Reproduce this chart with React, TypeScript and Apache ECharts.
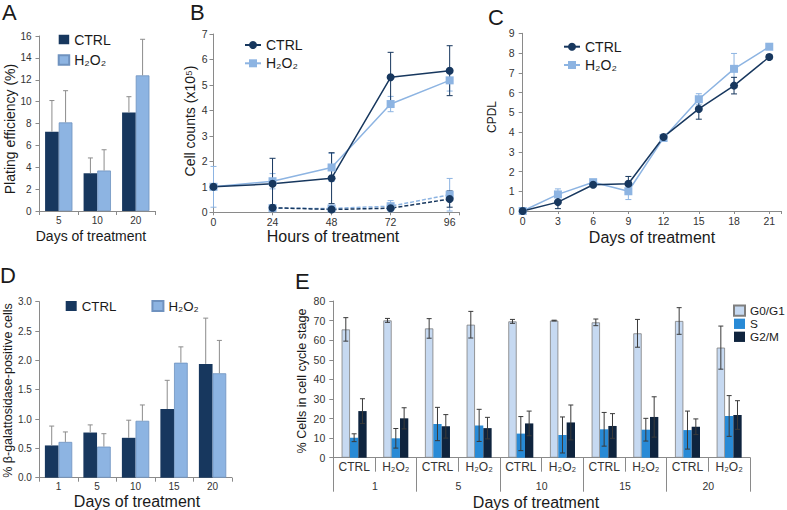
import React, { useEffect, useRef } from 'react';
import * as echarts from 'echarts';

const FONT = '"Liberation Sans", Arial, Helvetica, sans-serif';
const DARK = '#17375E';
const LIGHT = '#8DB4E2';
const G0C = '#C6D9F1';
const SC = '#288AD6';
const G2C = '#0F243E';
const AXIS = '#8A8A8A';
const LABEL = '#333333';
const TITLE = '#1A1A1A';
const ERRGRAY = '#8C8C8C';
const ERRDARK = '#3A3A3A';

// ---- Panel A: plating efficiency ----
const daysA = ['5', '10', '20'];
const aCtrl = [7.25, 3.45, 9.0];
const aCtrlErr = [2.85, 1.4, 1.45];
const aH2o2 = [8.1, 3.7, 12.4];
const aH2o2Err = [2.9, 1.9, 3.3];

// ---- Panel B: cell counts ----
const hoursB = [0, 24, 48, 72, 96];
const bCtrl = [1.0, 1.12, 1.34, 5.3, 5.56];
const bCtrlErr = [0, 1.0, 1.0, 0.98, 0.98];
const bH2o2 = [1.0, 1.22, 1.76, 4.25, 5.18];
const bH2o2Err = [0.8, 0.3, 0.55, 0.3, 0.42];
const hoursBLow = [24, 48, 72, 96];
const bCtrlLow = [0.18, 0.11, 0.16, 0.52];
const bCtrlLowErr = [0.12, 0.05, 0.08, 0.32];
const bH2o2Low = [0.16, 0.15, 0.24, 0.69];
const bH2o2LowErr = [0.1, 0.1, 0.22, 0.64];

// ---- Panel C: CPDL ----
const daysC = [0, 3, 6, 9, 12, 15, 18, 21];
const cCtrl = [0, 0.45, 1.33, 1.38, 3.75, 5.17, 6.35, 7.8];
const cCtrlErr = [0, 0.33, 0.08, 0.37, 0.1, 0.52, 0.42, 0.12];
const cH2o2 = [0, 0.84, 1.46, 1.0, 3.7, 5.66, 7.2, 8.32];
const cH2o2Err = [0, 0.28, 0.1, 0.42, 0.15, 0.28, 0.78, 0.1];

// ---- Panel D: beta-galactosidase ----
const daysD = ['1', '5', '10', '15', '20'];
const dCtrl = [0.55, 0.77, 0.68, 1.17, 1.94];
const dCtrlErr = [0.33, 0.13, 0.3, 0.49, 0.78];
const dH2o2 = [0.61, 0.53, 0.97, 1.96, 1.78];
const dH2o2Err = [0.17, 0.22, 0.27, 0.27, 0.56];

// ---- Panel E: cell cycle ----
const eGroups = ['CTRL', 'H₂O₂', 'CTRL', 'H₂O₂', 'CTRL', 'H₂O₂', 'CTRL', 'H₂O₂', 'CTRL', 'H₂O₂'];
const eDays = ['1', '5', '10', '15', '20'];
const eG0 = [65.5, 70.1, 66.0, 67.9, 69.6, 70.0, 69.1, 63.5, 69.8, 56.2];
const eG0Err = [6.0, 1.0, 5.0, 6.8, 1.0, 0.2, 1.7, 7.1, 6.8, 11.0];
const eS = [10.2, 9.9, 17.2, 16.5, 12.3, 11.6, 14.5, 14.3, 14.1, 21.3];
const eSErr = [2.0, 5.0, 8.5, 8.2, 8.7, 9.2, 8.6, 5.8, 9.7, 10.4];
const eG2 = [23.8, 20.1, 16.0, 15.1, 17.5, 18.0, 16.2, 20.8, 15.8, 21.8];
const eG2Err = [6.3, 5.4, 6.0, 5.5, 6.3, 8.9, 6.3, 10.3, 4.0, 7.3];

function catErr(xi: number, yi: number, vals: number[], errs: number[], slot: number, n: number,
  gap: number, color: string, both: boolean, cap: number, z: number) {
  return {
    type: 'custom', xAxisIndex: xi, yAxisIndex: yi, z, silent: true,
    data: vals.map((v, i) => [i, v, errs[i]]),
    encode: { x: 0, y: 1 },
    renderItem: (params: any, api: any) => {
      const i = api.value(0);
      const v = api.value(1);
      const e = api.value(2);
      if (!(e > 0)) return null;
      const band = api.size([1, 0])[0];
      const bw = (band * (1 - gap)) / n;
      const off = (slot - (n - 1) / 2) * bw;
      const pTop = api.coord([i, v + e]);
      const pBot = api.coord([i, both ? v - e : v]);
      const x = pTop[0] + off;
      const st = { stroke: color, lineWidth: 1 };
      const children: any[] = [
        { type: 'line', shape: { x1: x, y1: pBot[1], x2: x, y2: pTop[1] }, style: st },
        { type: 'line', shape: { x1: x - cap, y1: pTop[1], x2: x + cap, y2: pTop[1] }, style: st },
      ];
      if (both) children.push({ type: 'line', shape: { x1: x - cap, y1: pBot[1], x2: x + cap, y2: pBot[1] }, style: st });
      return { type: 'group', children };
    },
  };
}

function valErr(xi: number, yi: number, xs: number[], vals: number[], errs: number[], color: string, cap: number, z: number) {
  return {
    type: 'custom', xAxisIndex: xi, yAxisIndex: yi, z, silent: true,
    data: vals.map((v, i) => [xs[i], v, errs[i]]),
    encode: { x: 0, y: 1 },
    renderItem: (params: any, api: any) => {
      const xv = api.value(0);
      const v = api.value(1);
      const e = api.value(2);
      if (!(e > 0)) return null;
      const pTop = api.coord([xv, v + e]);
      const pBot = api.coord([xv, Math.max(0, v - e)]);
      const x = pTop[0];
      const st = { stroke: color, lineWidth: 1 };
      return {
        type: 'group',
        children: [
          { type: 'line', shape: { x1: x, y1: pBot[1], x2: x, y2: pTop[1] }, style: st },
          { type: 'line', shape: { x1: x - cap, y1: pTop[1], x2: x + cap, y2: pTop[1] }, style: st },
          { type: 'line', shape: { x1: x - cap, y1: pBot[1], x2: x + cap, y2: pBot[1] }, style: st },
        ],
      };
    },
  };
}

const axisLine = { show: true, lineStyle: { color: AXIS, width: 1 } };
const tick = (len: number) => ({ show: true, length: len, lineStyle: { color: AXIS, width: 1 } });
const lbl = (size: number, margin: number) => ({ fontSize: size, color: LABEL, margin, fontFamily: FONT });
const noSplit = { show: false };

function txt(text: string, x: number, y: number, size: number, align = 'center', rot = 0) {
  return {
    type: 'text', x, y, rotation: rot, silent: true,
    style: {
      text, fontSize: size, fontFamily: FONT, fill: TITLE,
      align, verticalAlign: 'middle', textAlign: align, textVerticalAlign: 'middle',
    },
  };
}

const stripName = (name: string) => name.split('|')[1];

function yAx(gi: number, max: number, interval: number, size: number, margin: number, fmt?: any) {
  return {
    type: 'value', gridIndex: gi, min: 0, max, interval,
    axisLine, axisTick: tick(4), splitLine: noSplit,
    axisLabel: { ...lbl(size, margin), ...(fmt ? { formatter: fmt } : {}) },
  };
}

const option: any = {
  animation: false,
  backgroundColor: '#ffffff',
  textStyle: { fontFamily: FONT },
  grid: [
    { left: 39.5, top: 36, width: 115.5, height: 175, outerBoundsMode: 'none' },
    { left: 213.5, top: 34, width: 246, height: 178.3, outerBoundsMode: 'none' },
    { left: 522.7, top: 33.3, width: 258.3, height: 177.7, outerBoundsMode: 'none' },
    { left: 39.3, top: 301.7, width: 192.5, height: 176, outerBoundsMode: 'none' },
    { left: 333.3, top: 301, width: 416.7, height: 156.7, outerBoundsMode: 'none' },
  ],
  xAxis: [
    { type: 'category', gridIndex: 0, data: daysA, axisLine, axisTick: tick(4), axisLabel: lbl(10, 4) },
    {
      type: 'value', gridIndex: 1, min: 0, max: 100, interval: 24, axisLine, axisTick: tick(3), splitLine: noSplit,
      axisLabel: { ...lbl(10.5, 4), formatter: (v: number) => (v % 24 === 0 && v <= 96 ? String(v) : '') },
    },
    {
      type: 'value', gridIndex: 2, min: 0, max: 22, interval: 3, axisLine, axisTick: tick(3), splitLine: noSplit,
      axisLabel: { ...lbl(10.5, 4), formatter: (v: number) => (v % 3 === 0 && v <= 21 ? String(v) : '') },
    },
    { type: 'category', gridIndex: 3, data: daysD, axisLine, axisTick: tick(4), axisLabel: lbl(10, 4) },
    {
      type: 'category', gridIndex: 4, data: eGroups, position: 'bottom', axisLine,
      axisTick: { ...tick(14), interval: 0 }, axisLabel: { ...lbl(12, 3), interval: 0 },
    },
    {
      type: 'category', gridIndex: 4, data: eDays, position: 'bottom', axisLine: { show: false },
      axisTick: { ...tick(34), interval: 0 }, axisLabel: { ...lbl(10.5, 23), interval: 0 },
    },
  ],
  yAxis: [
    yAx(0, 16, 2, 10, 8),
    yAx(1, 7, 1, 10.5, 6),
    yAx(2, 9, 1, 10.5, 8),
    yAx(3, 3, 0.5, 10, 7.5, (v: number) => v.toFixed(1)),
    yAx(4, 80, 10, 10.5, 8),
  ],
  legend: [
    {
      left: 57.7, top: 32.5, orient: 'vertical', padding: 0, itemWidth: 10.5, itemHeight: 9.5, itemGap: 6.5,
      icon: 'rect', selectedMode: false, formatter: stripName,
      textStyle: { fontSize: 14, lineHeight: 14, color: TITLE, fontFamily: FONT },
      data: ['A|CTRL', 'A|H₂O₂'],
    },
    {
      left: 244, top: 38, orient: 'vertical', padding: 0, itemWidth: 16, itemHeight: 10, itemGap: 4.3,
      selectedMode: false, formatter: stripName,
      textStyle: { fontSize: 14, lineHeight: 14, color: TITLE, fontFamily: FONT },
      data: ['B|CTRL', 'B|H₂O₂'],
    },
    {
      left: 563, top: 39.7, orient: 'vertical', padding: 0, itemWidth: 16, itemHeight: 10, itemGap: 4.3,
      selectedMode: false, formatter: stripName,
      textStyle: { fontSize: 14, lineHeight: 14, color: TITLE, fontFamily: FONT },
      data: ['C|CTRL', 'C|H₂O₂'],
    },
    {
      left: 65.7, top: 299, orient: 'horizontal', padding: 0, itemWidth: 11, itemHeight: 10, itemGap: 35,
      icon: 'rect', selectedMode: false, formatter: stripName,
      textStyle: { fontSize: 13.3, lineHeight: 14, color: TITLE, fontFamily: FONT },
      data: ['D|CTRL', 'D|H₂O₂'],
    },
    {
      left: 733, top: 304.5, orient: 'vertical', padding: 0, itemWidth: 11, itemHeight: 10.3, itemGap: 1,
      icon: 'rect', selectedMode: false, formatter: stripName,
      textStyle: { fontSize: 11.8, lineHeight: 12, color: TITLE, fontFamily: FONT },
      data: ['E|G0/G1', 'E|S', 'E|G2/M'],
    },
  ],
  series: [
    // A
    { type: 'bar', name: 'A|CTRL', xAxisIndex: 0, yAxisIndex: 0, data: aCtrl, barGap: '0%', barCategoryGap: '29%', itemStyle: { color: DARK } },
    { type: 'bar', name: 'A|H₂O₂', xAxisIndex: 0, yAxisIndex: 0, data: aH2o2, barGap: '0%', barCategoryGap: '29%', itemStyle: { color: LIGHT, borderColor: '#6F92BF', borderWidth: 0.8 } },
    catErr(0, 0, aCtrl, aCtrlErr, 0, 2, 0.29, ERRGRAY, false, 2.5, 5),
    catErr(0, 0, aH2o2, aH2o2Err, 1, 2, 0.29, ERRGRAY, false, 2.5, 5),
    // B
    valErr(1, 1, hoursB, bH2o2, bH2o2Err, LIGHT, 3, 1),
    valErr(1, 1, hoursB, bCtrl, bCtrlErr, DARK, 3, 1),
    valErr(1, 1, hoursBLow, bH2o2Low, bH2o2LowErr, LIGHT, 3, 1),
    valErr(1, 1, hoursBLow, bCtrlLow, bCtrlLowErr, DARK, 3, 1),
    {
      type: 'line', name: 'B|H₂O₂', xAxisIndex: 1, yAxisIndex: 1, data: hoursB.map((h, i) => [h, bH2o2[i]]),
      symbol: 'rect', symbolSize: 8, lineStyle: { color: LIGHT, width: 1.5 }, itemStyle: { color: LIGHT }, z: 3,
    },
    {
      type: 'line', name: 'B|CTRL', xAxisIndex: 1, yAxisIndex: 1, data: hoursB.map((h, i) => [h, bCtrl[i]]),
      symbol: 'circle', symbolSize: 8, lineStyle: { color: DARK, width: 1.5 }, itemStyle: { color: DARK }, z: 3,
    },
    {
      type: 'line', name: 'B|H₂O₂ low', xAxisIndex: 1, yAxisIndex: 1, data: hoursBLow.map((h, i) => [h, bH2o2Low[i]]),
      symbol: 'rect', symbolSize: 8, lineStyle: { color: LIGHT, width: 1.5, type: [4, 2] }, itemStyle: { color: LIGHT }, z: 3,
    },
    {
      type: 'line', name: 'B|CTRL low', xAxisIndex: 1, yAxisIndex: 1, data: hoursBLow.map((h, i) => [h, bCtrlLow[i]]),
      symbol: 'circle', symbolSize: 8, lineStyle: { color: DARK, width: 1.5, type: [4, 2] }, itemStyle: { color: DARK }, z: 3,
    },
    // C
    valErr(2, 2, daysC, cH2o2, cH2o2Err, LIGHT, 3, 1),
    valErr(2, 2, daysC, cCtrl, cCtrlErr, DARK, 3, 1),
    {
      type: 'line', name: 'C|H₂O₂', xAxisIndex: 2, yAxisIndex: 2, data: daysC.map((d, i) => [d, cH2o2[i]]),
      symbol: 'rect', symbolSize: 8, lineStyle: { color: LIGHT, width: 1.5 }, itemStyle: { color: LIGHT }, z: 3,
    },
    {
      type: 'line', name: 'C|CTRL', xAxisIndex: 2, yAxisIndex: 2, data: daysC.map((d, i) => [d, cCtrl[i]]),
      symbol: 'circle', symbolSize: 8, lineStyle: { color: DARK, width: 1.5 }, itemStyle: { color: DARK }, z: 3,
    },
    // D
    { type: 'bar', name: 'D|CTRL', xAxisIndex: 3, yAxisIndex: 3, data: dCtrl, barGap: '0%', barCategoryGap: '29%', itemStyle: { color: DARK } },
    { type: 'bar', name: 'D|H₂O₂', xAxisIndex: 3, yAxisIndex: 3, data: dH2o2, barGap: '0%', barCategoryGap: '29%', itemStyle: { color: LIGHT, borderColor: '#6F92BF', borderWidth: 0.8 } },
    catErr(3, 3, dCtrl, dCtrlErr, 0, 2, 0.29, ERRGRAY, false, 2.5, 5),
    catErr(3, 3, dH2o2, dH2o2Err, 1, 2, 0.29, ERRGRAY, false, 2.5, 5),
    // E
    { type: 'bar', name: 'E|G0/G1', xAxisIndex: 4, yAxisIndex: 4, data: eG0, barGap: '0%', barCategoryGap: '40%', itemStyle: { color: G0C, borderColor: '#7F7F7F', borderWidth: 0.8 } },
    { type: 'bar', name: 'E|S', xAxisIndex: 4, yAxisIndex: 4, data: eS, barGap: '0%', barCategoryGap: '40%', itemStyle: { color: SC } },
    { type: 'bar', name: 'E|G2/M', xAxisIndex: 4, yAxisIndex: 4, data: eG2, barGap: '0%', barCategoryGap: '40%', itemStyle: { color: G2C } },
    catErr(4, 4, eG0, eG0Err, 0, 3, 0.4, ERRDARK, true, 2.5, 5),
    catErr(4, 4, eS, eSErr, 1, 3, 0.4, ERRDARK, true, 2.5, 5),
    catErr(4, 4, eG2, eG2Err, 2, 3, 0.4, ERRDARK, true, 2.5, 5),
  ],
  graphic: [
    txt('A', 2, 12.5, 22, 'left'),
    txt('B', 190, 12.5, 22, 'left'),
    txt('C', 488, 17.5, 22, 'left'),
    txt('D', 0, 275, 22, 'left'),
    txt('E', 295, 281, 22, 'left'),
    txt('Days of treatment', 91, 236, 14),
    txt('Hours of treatment', 333, 236.5, 16),
    txt('Days of treatment', 652, 237, 16),
    txt('Days of treatment', 137, 501, 16),
    txt('Days of treatment', 536, 502, 16),
    txt('Plating efficiency (%)', 10, 129, 14, 'center', Math.PI / 2),
    txt('Cell counts (x10⁵)', 190, 121, 14, 'center', Math.PI / 2),
    txt('CPDL', 492, 117, 12, 'center', Math.PI / 2),
    txt('% β-galattosidase-positive cells', 7.5, 390.5, 12.5, 'center', Math.PI / 2),
    txt('% Cells in cell cycle stage', 302, 381, 12.6, 'center', Math.PI / 2),
  ],
};

export default function App() {
  const ref = useRef<HTMLDivElement>(null);
  useEffect(() => {
    if (!ref.current) return;
    const chart = echarts.init(ref.current, null, { renderer: 'svg' });
    chart.setOption(option);
    return () => chart.dispose();
  }, []);
  return (
    <div
      ref={ref}
      style={{ position: 'absolute', left: 0, top: 0, width: 787, height: 510, background: '#fff' }}
    />
  );
}
